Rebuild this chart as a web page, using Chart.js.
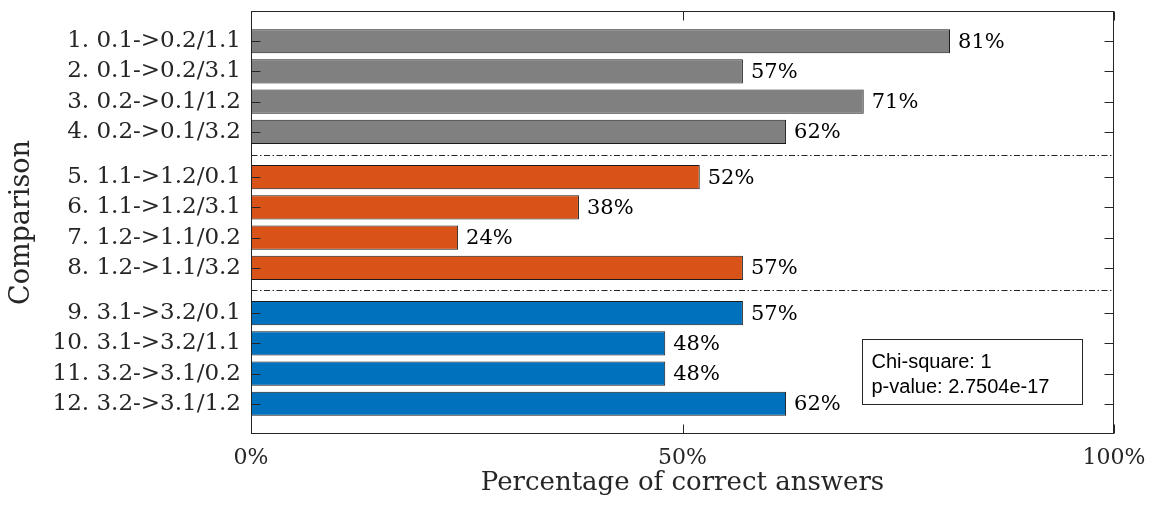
<!DOCTYPE html>
<html>
<head>
<meta charset="utf-8">
<script src="https://cdn.jsdelivr.net/npm/chart.js@4.4.1/dist/chart.umd.min.js"></script>
<style>
  html, body { margin: 0; padding: 0; background: #ffffff; }
  canvas { display: block; }
</style>
</head>
<body>
<canvas id="chart" width="1153" height="508"></canvas>
<script>
// Comparison rows, top to bottom
const rowLabels = [
  '1. 0.1->0.2/1.1', '2. 0.1->0.2/3.1', '3. 0.2->0.1/1.2', '4. 0.2->0.1/3.2',
  '5. 1.1->1.2/0.1', '6. 1.1->1.2/3.1', '7. 1.2->1.1/0.2', '8. 1.2->1.1/3.2',
  '9. 3.1->3.2/0.1', '10. 3.1->3.2/1.1', '11. 3.2->3.1/0.2', '12. 3.2->3.1/1.2'
];
// Position of each row on the y axis (groups separated by half a row)
const rowPos = [1, 2, 3, 4, 5.5, 6.5, 7.5, 8.5, 10, 11, 12, 13];
// Percentage of correct answers per row
const values = [81, 57, 71, 62, 52, 38, 24, 57, 57, 48, 48, 62];
// Group of each row and the colour of each group
const rowGroup = [0, 0, 0, 0, 1, 1, 1, 1, 2, 2, 2, 2];
const groupColors = ['#808080', '#D95319', '#0072BD'];
// Dash-dot separators between the groups
const separatorPos = [4.75, 9.25];
// x axis ticks
const xTicks = [0, 50, 100];
// Statistics box text
const statsLines = ['Chi-square: 1', 'p-value: 2.7504e-17'];

const SERIF = '"DejaVu Serif", serif';
const SANS = '"Liberation Sans", Arial, sans-serif';
const AXIS_COLOR = '#262626';

const decorations = {
  id: 'decorations',
  afterDatasetsDraw(chart) {
    const ctx = chart.ctx;
    const area = chart.chartArea;
    const xs = chart.scales.x, ys = chart.scales.y;
    const L = Math.round(area.left) + 0.5, R = Math.round(area.right) - 0.5;
    const T = Math.round(area.top) + 0.5, B = Math.round(area.bottom) - 0.5;
    ctx.save();

    // separators
    ctx.strokeStyle = AXIS_COLOR;
    ctx.lineWidth = 1;
    ctx.setLineDash([6, 2.5, 1.5, 2.5]);
    separatorPos.forEach(p => {
      const y = Math.round(ys.getPixelForValue(p)) + 0.5;
      ctx.beginPath(); ctx.moveTo(L, y); ctx.lineTo(R, y); ctx.stroke();
    });
    ctx.setLineDash([]);

    // value labels
    const meta = chart.getDatasetMeta(0);
    ctx.fillStyle = '#000';
    ctx.font = '21px ' + SERIF;
    ctx.textAlign = 'left';
    ctx.textBaseline = 'middle';
    meta.data.forEach((bar, i) => {
      ctx.fillText(values[i] + '%', bar.x + 8, bar.y + 1);
    });

    // frame
    ctx.strokeStyle = AXIS_COLOR;
    ctx.lineWidth = 1;
    ctx.strokeRect(L, T, R - L, B - T);

    // inward ticks
    const tl = 9;
    ctx.beginPath();
    rowPos.forEach(p => {
      const y = Math.round(ys.getPixelForValue(p)) + 0.5;
      ctx.moveTo(L, y); ctx.lineTo(L + tl, y);
      ctx.moveTo(R, y); ctx.lineTo(R - tl, y);
    });
    xTicks.forEach(v => {
      const x = Math.round(xs.getPixelForValue(v)) + 0.5;
      ctx.moveTo(x, B); ctx.lineTo(x, B - tl);
      ctx.moveTo(x, T); ctx.lineTo(x, T + tl);
    });
    ctx.stroke();

    // statistics box
    const bx = R - 251, by = B - 94, bw = 220, bh = 65;
    ctx.fillStyle = '#ffffff';
    ctx.fillRect(bx, by, bw, bh);
    ctx.strokeStyle = '#262626';
    ctx.strokeRect(bx, by, bw, bh);
    ctx.fillStyle = '#000';
    ctx.font = '20px ' + SANS;
    ctx.textBaseline = 'alphabetic';
    statsLines.forEach((s, i) => ctx.fillText(s, bx + 9, by + 28 + i * 25));
    ctx.restore();
  }
};

new Chart(document.getElementById('chart'), {
  type: 'bar',
  data: {
    datasets: [{
      data: values.map((v, i) => ({ x: v, y: rowPos[i] })),
      backgroundColor: rowGroup.map(g => groupColors[g]),
      borderColor: '#1a1a1a',
      borderWidth: 1,
      borderSkipped: false,
      categoryPercentage: 1,
      barPercentage: 0.8
    }]
  },
  options: {
    indexAxis: 'y',
    responsive: false,
    animation: false,
    devicePixelRatio: 1,
    layout: { padding: { left: 0, top: 11, right: 39, bottom: 0 } },
    plugins: { legend: { display: false }, tooltip: { enabled: false } },
    scales: {
      x: {
        type: 'linear',
        position: 'bottom',
        min: 0, max: 100,
        afterBuildTicks: axis => { axis.ticks = xTicks.map(v => ({ value: v })); },
        afterFit: axis => {
          axis.height = 74;
          axis.paddingLeft = 0; axis.paddingRight = 0;
        },
        grid: { display: false, drawTicks: false },
        border: { display: false },
        ticks: {
          padding: 11,
          color: '#262626',
          font: { family: SERIF, size: 22 },
          callback: v => v + '%'
        },
        title: {
          display: true,
          text: 'Percentage of correct answers',
          color: '#262626',
          font: { family: SERIF, size: 26 },
          padding: { top: 0, bottom: 9 }
        }
      },
      y: {
        type: 'linear',
        position: 'left',
        reverse: true,
        offset: false,
        min: 0, max: 14,
        afterBuildTicks: axis => { axis.ticks = rowPos.map(v => ({ value: v })); },
        afterFit: axis => {
          axis.width = 251;
          axis.paddingTop = 0; axis.paddingBottom = 0;
        },
        grid: { display: false, drawTicks: false, offset: false },
        border: { display: false },
        ticks: {
          autoSkip: false,
          padding: 10,
          color: '#262626',
          font: { family: SERIF, size: 23 },
          callback: (v, i) => rowLabels[i]
        },
        title: {
          display: true,
          text: 'Comparison',
          color: '#262626',
          font: { family: SERIF, size: 27 },
          padding: { top: 6, bottom: 0 }
        }
      }
    }
  },
  plugins: [decorations]
});
</script>
</body>
</html>
